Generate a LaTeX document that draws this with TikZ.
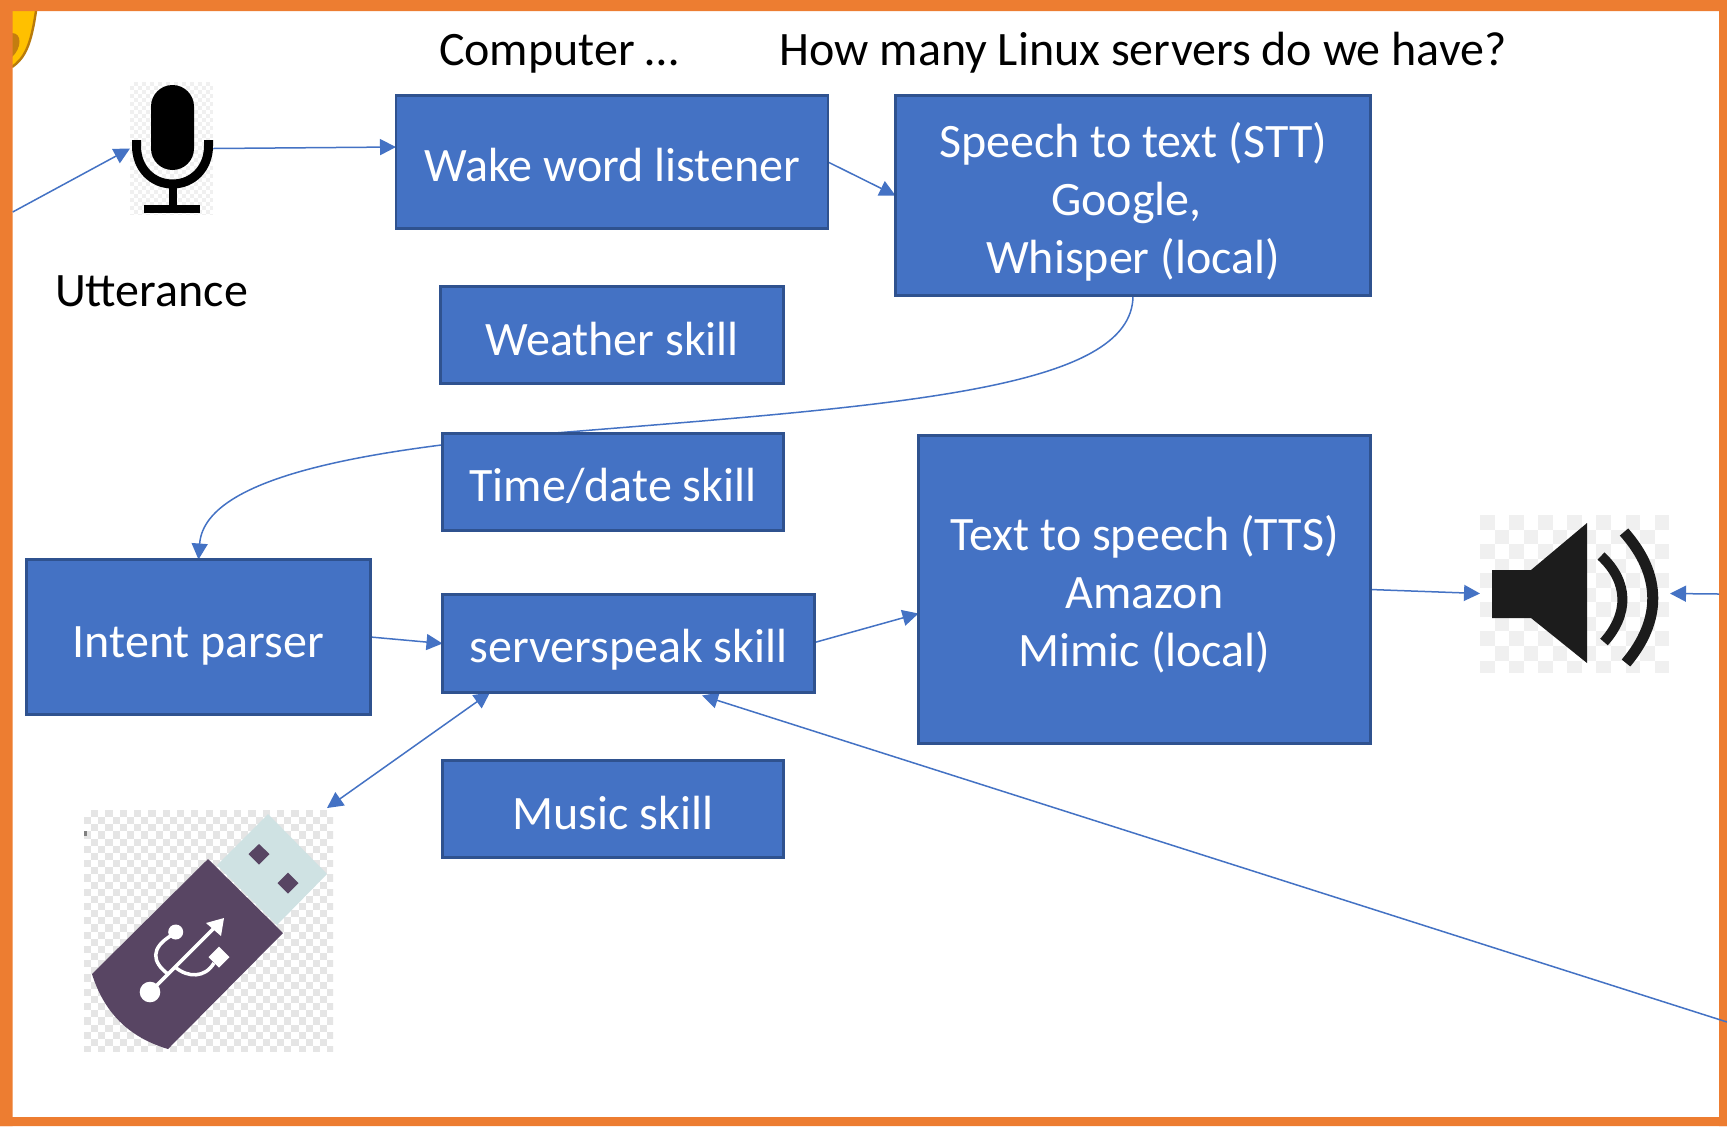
\documentclass[tikz,border=0pt]{standalone}
\usepackage{fontspec}
\setmainfont{Carlito}
\usetikzlibrary{arrows.meta,backgrounds}
\definecolor{boxblue}{HTML}{4472C4}
\definecolor{boxedge}{HTML}{2F528F}
\definecolor{frameorange}{HTML}{ED7D31}
\definecolor{usbpurple}{HTML}{584563}
\definecolor{usbpale}{HTML}{CFE2E3}
\definecolor{spkblack}{HTML}{1C1C1C}
\definecolor{goldedge}{HTML}{B87A0A}
\definecolor{goldspot}{HTML}{C47D0F}
\definecolor{goldfill}{HTML}{FFC000}
\newcommand{\dropText}[2]{\raisebox{-#1}[\height][\depth]{\begin{tabular}{@{}c@{}}#2\end{tabular}}}
\tikzset{
  x=0.5pt,y=-0.5pt,
  skillbox/.style={draw=boxedge,fill=boxblue,line width=1.3pt,text=white,align=center,inner sep=0pt,outer sep=0pt,
    font=\fontsize{24}{29}\selectfont},
  caption/.style={text=black,inner sep=0pt,outer sep=0pt,font=\fontsize{24}{29}\selectfont},
  imagebox/.style={inner sep=0pt,outer sep=0pt},
  conn/.style={draw=boxblue,line width=0.75pt,-{Triangle[length=8pt,width=8pt]}},
  connboth/.style={draw=boxblue,line width=0.75pt,{Triangle[length=8pt,width=8pt]}-{Triangle[length=8pt,width=8pt]}},
}
\begin{document}
\begin{tikzpicture}
\useasboundingbox (0,0) rectangle (1727,1126);

% boxes
\node[skillbox,minimum width=216pt,minimum height=66.5pt] (wake) at (612,162) {\dropText{4.15pt}{Wake word listener}};
\node[skillbox,minimum width=237.5pt,minimum height=100pt] (stt) at (1133,195.5) {\dropText{4.4pt}{Speech to text (STT)\\Google,\kern6.5pt\\Whisper (local)}};
\node[skillbox,minimum width=171.5pt,minimum height=48.5pt] (weather) at (612,335) {\dropText{4.4pt}{Weather skill}};
\node[skillbox,minimum width=170.5pt,minimum height=48.5pt] (time) at (613,482) {\dropText{3.85pt}{Time/date skill}};
\node[skillbox,minimum width=172pt,minimum height=77.5pt] (intent) at (198.5,637) {\dropText{4.4pt}{Intent parser}};
\node[skillbox,minimum width=186pt,minimum height=49pt] (server) at (628.5,643.5) {\dropText{3.85pt}{serverspeak skill}};
\node[skillbox,minimum width=226pt,minimum height=154pt] (tts) at (1144.5,589.5) {\dropText{3.6pt}{Text to speech (TTS)\\Amazon\\Mimic (local)}};
\node[skillbox,minimum width=170.5pt,minimum height=48.5pt] (music) at (613,809) {\dropText{4.4pt}{Music skill}};

% captions
\node[caption] (cap1) at (559,54) {Computer …};
\node[caption] (cap2) at (1143,53) {How many Linux servers do we have?};
\node[caption] (cap3) at (151.5,291) {Utterance};

% microphone picture
\node[imagebox,minimum width=41.5pt,minimum height=66.5pt] (mic) at (171.5,148.5) {};
\begin{scope}
  \clip (130,82) rectangle (213,215);
  \fill[black!6] (130,82) rectangle (213,215);
  \foreach \i in {0,...,20}{\foreach \j in {0,...,33}{
    \pgfmathtruncatemacro{\k}{mod(\i+\j,2)}
    \ifnum\k=0 \fill[white] (130+\i*4,82+\j*4) rectangle +(4,4);\fi
  }}
\end{scope}
\fill[black,rounded corners=10.75pt] (151,85) rectangle (194,170);
\draw[black,line width=4.5pt] (136.5,140) -- (136.5,146)
  .. controls (136.5,168) and (152,184) .. (172.5,184)
  .. controls (193,184) and (208.5,168) .. (208.5,146) -- (208.5,140);
\fill[black] (169,186) rectangle (177,206);
\fill[black] (144,205) rectangle (200,213);

% speaker picture
\node[imagebox,minimum width=95pt,minimum height=78.5pt] (spk) at (1575,593.5) {};
\begin{scope}
  \clip (1480,515) rectangle (1670,672);
  \foreach \i in {0,...,12}{\foreach \j in {0,...,10}{
    \pgfmathtruncatemacro{\k}{mod(\i+\j,2)}
    \ifnum\k=0 \fill[black!6] (1480+\i*14.55,515+\j*14.55) rectangle +(14.55,14.55);\fi
  }}
\end{scope}
\fill[spkblack] (1492,570) -- (1531,570) -- (1587,523) -- (1587,663) -- (1531,618) -- (1492,618) -- cycle;
\draw[spkblack,line width=5pt] (1601,556) .. controls (1629,582) and (1629,614) .. (1604,642);
\draw[spkblack,line width=5.5pt] (1624,532) .. controls (1662,575) and (1662,620) .. (1626,663);

% USB picture
\node[imagebox,minimum width=124.5pt,minimum height=121pt] (usb) at (208.5,931) {};
\begin{scope}
  \clip (84,810) rectangle (333,1051);
  \foreach \i in {0,...,34}{\foreach \j in {0,...,33}{
    \pgfmathtruncatemacro{\k}{mod(\i+\j,2)}
    \ifnum\k=1 \fill[black!10] (84+\i*7.15,810+\j*7.15) rectangle +(7.15,7.15);\fi
  }}
\end{scope}
\fill[usbpale] (268,814) -- (327,874) -- (277,925) -- (217,865) -- cycle;
\fill[usbpurple] (208,859) -- (283,933) -- (168,1049) .. controls (128,1037) and (104,1012) .. (92,974) -- cycle;
\fill[usbpurple] (259,844) -- (269.5,854) -- (259,864.5) -- (248.5,854) -- cycle;
\fill[usbpurple] (288,872.5) -- (298.5,883) -- (288,893.5) -- (277.5,883) -- cycle;
\draw[white,line width=1.75pt] (150,992) -- (216,926);
\fill[white] (224,918) -- (206,923) -- (221,936) -- cycle;
\fill[white] (150,992) circle (10.3);
\fill[white] (175.7,932) circle (7.5);
\draw[white,line width=1.75pt] (172,935) .. controls (150,948) and (152,962) .. (168,974);
\draw[white,line width=1.75pt] (175,967) .. controls (188,978) and (205,978) .. (214,963);
\fill[white] (219,946.5) -- (229.5,957) -- (219,967.5) -- (208.5,957) -- cycle;
\fill[black!50] (84,831) rectangle (87,836);

% frame and connectors underneath the boxes
\begin{scope}[on background layer]
  \fill[white] (0,0) rectangle (1727,1126);
  \fill[goldfill] (12,11) -- (36,11) .. controls (31,45) and (25,58) .. (12,67) -- cycle;
  \draw[goldedge,line width=1.2pt] (36,11) .. controls (31,45) and (25,58) .. (12,67);
  \fill[goldspot] (12,33) .. controls (22,33) and (22,48) .. (12,57) -- cycle;
  \fill[frameorange] (0,0) rectangle (1727,11) (0,1117) rectangle (1727,1126);
  \fill[frameorange] (0,0) rectangle (12.7,1126) (1719,0) rectangle (1727,1126);

  \coordinate (leftin) at (12.7,212);
  \coordinate (rightin) at (1719,594);
  \coordinate (bottomin) at (1727,1022);
  \draw[conn] (leftin) -- (mic.west);
  \draw[conn] (mic.east) -- ([yshift=7.5pt]wake.west);
  \draw[conn] (wake.east) -- (stt.west);
  \coordinate (midbend) at (555,433);
  \draw[conn] (stt.south) .. controls (1133,390) and (900,405) .. (midbend)
     .. controls (400,447) and (205,470) .. (intent.north);
  \draw[conn] (intent.east) -- (server.west);
  \draw[conn] ([yshift=0.5pt]server.east) -- ([yshift=-12pt]tts.west);
  \draw[conn] (tts.east) -- (spk.west);
  \draw[conn] (rightin) -- (spk.east);
  \draw[conn] (bottomin) -- ([xshift=36.75pt,yshift=-1.5pt]server.south);
  \draw[connboth] ([xshift=-3pt,yshift=1pt]usb.north east) -- ([xshift=-69.25pt]server.south);
\end{scope}
\end{tikzpicture}
\end{document}
